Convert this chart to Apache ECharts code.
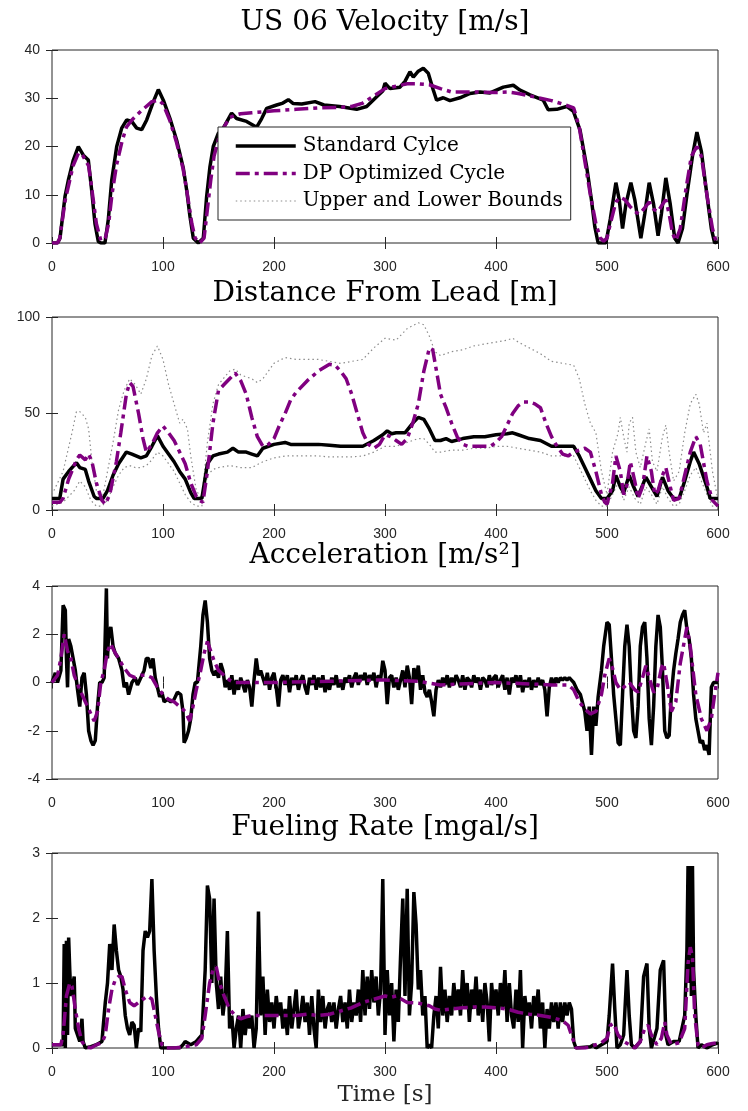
<!DOCTYPE html>
<html><head><meta charset="utf-8">
<script src="https://cdn.jsdelivr.net/npm/echarts@6/dist/echarts.min.js"></script>
<style>html,body{margin:0;padding:0;background:#fff}#c{width:748px;height:1111px}</style>
</head><body><div id="c"></div>
<script>
// ---------- DATA ----------
const xTicks = [0,100,200,300,400,500,600];
const titles = ["US 06 Velocity [m/s]","Distance From Lead [m]","Acceleration [m/s²]","Fueling Rate [mgal/s]"];
const xLabel = "Time [s]";
const legendNames = ["Standard Cylce","DP Optimized Cycle","Upper and Lower Bounds"];

// Velocity [m/s] : [time, value]
const velStd = [[0,0],[5,0],[7.2,1],[11.7,9.6],[14.7,13],[19.2,17.2],[23.7,20],[28.2,18.2],[32.7,17.2],[35.7,11],[38.7,4],[41.7,0.3],[44,0],[47.7,0],[50.7,4.8],[53.8,13],[58.3,20],[62.8,23.8],[67.3,25.5],[71.8,25.2],[76.3,23.8],[80.8,23.5],[85.3,25.5],[91.3,29.3],[95.8,31.8],[100.3,29.6],[106.3,25.8],[112.3,21.3],[118.3,15.5],[121.3,11],[124.3,5.5],[127.3,1],[131.8,0],[136.3,1],[139.3,9.6],[142.3,15.8],[145.3,20],[149.8,22.7],[154.3,23.8],[161.8,26.9],[166.3,25.8],[175.3,25.2],[184.4,24],[188.9,25.8],[193.4,27.9],[202.4,28.6],[208,29],[212.9,29.7],[217.4,28.9],[225,28.8],[237,29.3],[245,28.6],[259,28.3],[274.5,27.7],[283.5,28.3],[292.5,30.3],[298,31.5],[300,33.1],[304.5,32],[313.5,32.3],[318,33.5],[322.5,35.5],[325.5,34.4],[330,35.6],[334.5,36.2],[339,35.2],[343.5,31.7],[346.5,29.6],[352.5,30.1],[358.5,29.5],[367.5,30.1],[376.6,31],[385.6,31.3],[394.6,31.1],[406.6,32.3],[415.6,32.7],[421.6,31.7],[430.6,30.7],[442.6,29.6],[447,27.6],[454.7,27.7],[463.7,28.3],[469.7,27.3],[475.7,23.4],[481.7,15.8],[486,8.9],[489,3.4],[492,0],[499,0],[503,5],[508,12.5],[511,9],[514,3],[517,8],[521.5,12.5],[525,9],[530.5,1],[534,6],[538,12.5],[542,8],[546,1.5],[549,6],[553,13.5],[557,8],[561,1],[564,0],[568,3],[572,10],[577,18],[581,23],[585,19],[590,10],[594,3],[597,0],[600,0.3]];
const velDP = [[0,0],[5,0],[7,1],[12,9],[15,12],[19,16],[24,18.7],[28,18],[33,16],[36,11],[40,4],[44,0.5],[48,1],[51,4],[54,10],[58,16],[63,21],[67,24],[72,25.5],[80,27.3],[90,29.3],[96,29.6],[100,28.8],[106,25.5],[112,21],[118,15.5],[122,10],[126,4],[129,1],[133,0],[137,1],[140,7],[143,13],[146,18],[150,21.5],[155,24],[160,26],[165,26.5],[170,26.8],[180,27],[190,27.2],[200,27.4],[220,27.7],[240,28],[260,28.1],[270,28.3],[280,29],[290,30.5],[300,32],[310,32.5],[320,33],[330,33],[340,32.8],[350,32],[360,31.3],[380,31.3],[400,31.2],[410,31.3],[420,31],[430,30.5],[440,30],[450,29.5],[460,28.8],[470,28],[475,24],[480,17],[485,10],[490,4],[494,1],[497,0.4],[500,1],[503,4],[508,8.5],[512,9.5],[516,9],[521,7.5],[525,6.5],[529,6],[533,7],[538,8.5],[542,7],[546,6.5],[550,8],[553,9],[556,6],[559,2],[562,0.5],[566,3],[571,11],[576,18],[581,20],[585,18],[590,10],[595,3],[598,0.5],[600,0.3]];

// Distance from lead [m]
const distStd = [[0,6],[7,6],[10,16],[15,20],[22,24.5],[25,22],[30,21],[33,15],[38,7],[40,6],[46,6],[50,10],[55,18],[60,24],[67,30],[72,29],[80,27],[85,28],[90,33],[95,38.5],[100,33],[105,29],[110,25],[115,20],[120,16],[125,9],[128,6],[135,6],[140,24],[145,28],[150,29],[158,30],[163,32],[168,30],[175,30],[180,29],[185,28],[190,32],[200,34],[210,35],[215,34],[230,34],[240,34],[250,33.5],[260,33],[280,33],[290,36],[298,39],[302,41],[306,39.5],[310,40],[318,40],[325,45],[330,48],[335,47],[340,42],[345,36],[350,36],[355,37],[360,35.5],[370,37],[380,38],[390,38],[400,39],[410,39.5],[415,40],[420,39],[430,37],[440,36],[450,33],[460,33],[470,33],[475,28],[480,22],[485,16],[490,10],[495,6],[500,6],[505,10],[508,18],[512,12],[515,9],[520,18],[524,12],[528,7],[535,17],[540,12],[545,7],[550,17],[555,10],[560,6],[565,6],[570,15],[575,25],[578,30],[583,24],[590,12],[593,6],[600,6]];
const distDP = [[0,4],[7,4],[10,6],[15,16],[22,26],[25,28.5],[30,26],[33,29],[36,25],[40,14],[45,5],[48,3],[52,8],[58,25],[62,40],[67,60],[70,66],[73,64],[78,50],[82,37],[85,30],[90,34],[95,40],[100,43.5],[105,40],[110,36],[115,30],[120,24],[125,14],[130,7],[133,5],[136,4],[140,20],[145,45],[150,62],[155,65],[160,68],[165,71],[170,67],[175,60],[180,48],[185,38],[190,33],[195,34],[200,37],[205,44],[210,50],[215,57],[220,61],[230,67],[240,72],[250,75.5],[255,75],[260,72],[265,68],[270,60],[275,50],[280,40],[285,34],[290,32],[295,34],[300,39],[305,38],[310,36],[315,34],[320,37],[325,45],[330,55],[335,72],[340,84],[343,83],[347,70],[350,60],[355,53],[360,45],[365,38],[370,34],[375,33],[385,33],[395,33],[400,35],[405,38],[410,44],[415,50],[420,54],[425,56],[430,56],[435,55],[440,53],[445,45],[450,38],[455,33],[460,29],[465,28],[470,30],[475,31],[480,32],[485,30],[490,20],[495,8],[498,4],[500,3],[505,14],[508,28],[512,20],[515,8],[518,13],[521,25],[525,15],[528,6],[532,12],[536,28],[540,20],[543,8],[546,10],[550,18],[553,22],[557,12],[560,5],[565,6],[570,18],[575,30],[580,38],[584,34],[590,15],[595,5],[600,2]];
const distUpper = [[0,8],[10,20],[18,40],[22,51],[25,51],[30,48],[33,42],[36,25],[40,10],[45,5],[50,20],[55,35],[60,52],[65,62],[70,68],[75,65],[80,60],[85,68],[90,80],[95,85],[100,78],[105,65],[110,55],[115,45],[118,47],[122,42],[125,28],[130,10],[135,6],[140,35],[145,55],[150,65],[160,72],[165,73],[170,70],[180,68],[185,66],[190,68],[200,76],[210,79],[220,78],[240,78],[250,77],[260,76],[270,77],[280,78],[290,84],[300,89],[310,88],[320,94],[330,97],[335,96],[340,90],[345,82],[350,80],[360,82],[370,83],[380,85],[390,86],[400,87],[410,88],[415,89],[420,87],[430,84],[440,81],[450,77],[460,76],[470,75],[475,68],[480,55],[485,45],[490,40],[495,20],[500,8],[505,30],[510,40],[512,48],[515,38],[518,30],[520,45],[523,48],[526,30],[530,22],[535,35],[538,42],[541,25],[545,20],[550,38],[553,44],[556,30],[560,15],[565,20],[570,40],[575,55],[580,60],[583,55],[587,40],[590,45],[595,20],[600,5]];
const distLower = [[0,2],[10,4],[20,10],[25,15],[30,12],[35,5],[40,2],[45,2],[50,5],[55,12],[60,18],[65,22],[70,23],[75,22],[80,22],[85,23],[90,26],[95,30],[100,28],[105,24],[110,20],[115,14],[120,8],[125,4],[130,2],[135,2],[140,18],[145,21],[150,22],[160,23],[170,22],[180,22],[190,25],[200,27],[210,28],[240,28],[250,27.5],[270,27.5],[280,28],[290,30],[300,33],[310,33],[320,35],[330,37],[335,37],[340,34],[345,30],[350,30],[360,31],[370,31],[380,32],[390,32],[400,33],[410,33],[420,32],[430,31],[440,30],[450,28],[470,28],[475,22],[480,16],[485,10],[490,5],[495,2],[500,2],[505,8],[510,14],[515,5],[520,12],[525,6],[530,3],[535,12],[540,8],[545,3],[550,12],[555,6],[560,2],[565,3],[570,10],[575,18],[580,22],[585,15],[590,8],[595,2],[600,2]];

// Acceleration [m/s^2]
const accStd = [[0,0],[3,0.4],[5,0],[8,0.5],[10,3.2],[12,3.0],[13,1],[14,-0.2],[15,1.8],[17,1.5],[19,1.0],[21,0.5],[23,-0.3],[25,-1],[27,0.2],[29,0.4],[31,-0.5],[33,-2],[35,-2.4],[37,-2.6],[39,-2.4],[41,-1.0],[43,0],[45,0],[47,0.2],[49,3.9],[50,1.0],[51,2.0],[53,2.3],[55,1.5],[57,1.2],[60,1.0],[63,0.5],[65,-0.2],[67,0],[69,-0.5],[72,0],[75,0.2],[77,-0.1],[80,0.2],[83,0.5],[85,1.0],[87,1.0],[89,0.6],[91,1.0],[93,0.2],[95,-0.2],[97,-0.6],[99,-0.4],[101,-0.8],[104,-0.7],[107,-0.8],[110,-0.7],[113,-0.4],[116,-0.5],[118,-1.2],[119,-2.5],[121,-2.3],[123,-2.0],[125,-1.5],[127,-0.5],[129,0],[131,0],[134,1.5],[136,2.8],[138,3.4],[140,2.5],[142,1.0],[144,0.5],[146,0.3],[148,0.5],
[150,0.2],[152,0.8],[154,0.5],[156,-0.2],[158,0.1],[160,-0.3],[162,0.3],[164,-0.5],[166,0.1],[168,-0.3],[170,0.2],[172,-0.1],[174,-0.4],[176,0.1],[178,-0.2],[180,-1.0],[182,0.1],[184,1.0],[186,0.3],[188,0.5],[190,0.2],[192,-0.1],[194,0.4],[196,-0.3],[198,0.2],[200,0.4],[202,-0.2],[204,-1.0],[206,0.1],[208,0.3],[210,-0.1],[212,0.3],[214,-0.4],[216,0.2],[218,-0.1],[220,0.3],[222,-0.3],[224,0.1],[226,0.3],[228,-0.2],[230,-0.5],[232,0.2],[234,-0.1],[236,0.3],[238,-0.3],[240,0.2],[242,-0.2],[244,0.3],[246,-0.4],[248,0.1],[250,-0.3],[252,0.2],[254,-0.1],[256,0.3],[258,-0.2],[260,0.1],[262,-0.3],[264,0.2],[266,0.0],[268,0.3],[270,-0.2],[272,0.2],[274,0.4],[276,-0.1],[278,0.3],[280,0.1],[282,0.4],[284,-0.1],[286,0.3],[288,0.1],[290,0.4],[292,-0.2],[294,0.3],[296,0.1],[298,0.9],[300,0.5],[302,-0.9],[304,0.2],[306,0.3],[308,-0.2],[310,0.2],[312,-0.3],[314,0.1],[316,0.5],[318,-0.2],[320,0.7],[322,0.2],[324,-0.9],[326,0.6],[328,0.1],[330,0.7],[332,-0.3],[334,0.3],[336,-0.4],[338,-0.6],[340,-0.3],[342,-0.8],[344,-1.4],[346,-0.3],[348,0.1],[350,-0.2],[352,0.2],[354,-0.1],[356,0.3],[358,-0.2],[360,0.2],[362,-0.1],[364,0.3],[366,0.1],[368,-0.2],[370,0.3],[372,-0.3],[374,0.2],[376,0.1],[378,-0.2],[380,0.3],[382,0.0],[384,0.2],[386,-0.3],[388,0.2],[390,0.1],[392,-0.2],[394,0.3],[396,-0.1],[398,0.2],[400,0.3],[402,-0.2],[404,0.1],[406,0.3],[408,-0.3],[410,0.2],[412,-0.5],[414,0.2],[416,0.0],[418,0.3],[420,-0.2],[422,0.3],[424,-0.4],[426,0.1],[428,-0.2],[430,0.2],[432,-0.3],[434,0.1],[436,-0.2],[438,0.2],[440,-0.1],[442,0.1],[444,-0.3],[446,-1.4],[448,-0.2],[450,0.2],[452,-0.1],[454,0.2],[456,0.0],[458,0.2],[460,0.1],[462,0.2],[464,0.1],[466,0.2],[468,0.1],[470,0.0],
[473,-0.3],[476,-0.5],[480,-1.2],[482,-2.0],[484,-1.0],[486,-3.0],[488,-1.0],[490,-1.8],[492,-0.6],[495,0.5],[497,1.5],[500,2.5],[502,2.4],[504,1.0],[506,-0.5],[508,-1.5],[510,-2.5],[512,-2.6],[514,-0.5],[516,1.5],[518,2.4],[520,1.5],[522,-0.5],[524,-2.0],[526,-2.3],[528,-1.0],[530,1.5],[532,2.3],[534,2.5],[536,1.0],[538,-1.5],[540,-2.6],[542,-1.0],[544,1.5],[546,2.8],[548,2.3],[550,0.5],[552,-2.0],[554,-2.3],[556,-2.2],[558,-0.5],[560,0.5],[562,1.2],[564,1.8],[566,2.5],[568,2.8],[570,3.0],[572,2.2],[574,1.8],[576,1.0],[578,-0.5],[580,-1.5],[582,-2.0],[584,-2.5],[586,-2.4],[588,-2.8],[590,-2.6],[592,-3.0],[594,-0.2],[596,0],[600,0]];
const accDP = [[0,0],[5,0.3],[8,1],[11,2.0],[14,1.3],[17,1.0],[20,0.3],[25,-0.3],[30,-0.8],[35,-1.3],[38,-1.6],[41,-1.2],[44,0],[47,0.5],[50,1.3],[53,1.6],[56,1.3],[60,1.0],[65,0.6],[70,0.3],[75,0.2],[80,0.3],[85,0.3],[90,0.2],[95,-0.2],[100,-0.5],[105,-0.7],[110,-0.8],[115,-1.0],[120,-1.2],[124,-1.6],[127,-1.0],[130,-0.3],[134,0.5],[137,1.2],[140,1.7],[143,1.3],[146,0.9],[150,0.5],[155,0.3],[160,0.1],[165,0],[200,0],[250,0.05],[290,0.1],[300,0.1],[330,0.05],[350,-0.1],[400,0],[450,-0.1],[465,-0.1],[470,-0.3],[475,-0.8],[480,-1.1],[485,-1.3],[490,-1.2],[495,-0.5],[498,0.3],[502,1.0],[505,0.6],[508,0],[512,-0.3],[515,-0.2],[520,0],[525,-0.3],[528,-0.4],[532,0.2],[535,0.7],[538,0.2],[542,-0.4],[545,-0.3],[549,0.6],[551,0.8],[554,0],[558,-1.2],[562,-0.8],[566,0.8],[570,1.8],[572,2.3],[575,1.5],[580,-0.5],[585,-1.5],[590,-2.0],[594,-1.5],[597,-0.5],[600,0.4]];

// Fueling rate [mgal/s]
const fuelStd = [[0,0.05],[10,0.05],[11,1.6],[12,0],[13,1.65],[14,0.2],[15,1.7],[16,1.2],[17,0.8],[18,0.9],[20,1.1],[21,0.3],[23,0.2],[25,0.1],[27,0.45],[28,0.1],[30,0],[35,0.02],[40,0.05],[45,0.1],[48,0.7],[50,1.0],[52,1.6],[54,1.2],[56,1.9],[58,1.5],[60,1.2],[62,1.1],[64,0.9],[66,0.5],[68,0.3],[70,0.2],[72,0.4],[74,0.35],[76,0],[78,0.3],[80,0.25],[82,1.5],[84,1.8],[86,1.7],[88,1.8],[90,2.6],[92,1.5],[94,0.8],[96,0.3],[98,0],[115,0],[118,0.05],[120,0.1],[125,0.05],[130,0.1],[135,0.2],[138,1.2],[140,2.5],[142,2.3],[144,1.0],[146,2.3],[148,1.0],[150,0.6],[152,1.1],[154,0.5],[156,0.8],[158,1.8],[160,0.3],[162,0.5],[164,0],[166,0.3],[168,0.5],[170,0],[172,0.6],[174,0.2],[176,0.5],[178,0.3],[180,0.5],[182,0],[184,0.3],[186,2.1],[188,0.5],[190,1.1],[192,0.2],[194,0.9],[196,0.4],[198,0.7],[200,0.3],[202,0.8],[204,0.5],[206,0.7],[208,0.3],[210,0.6],[212,0.2],[214,0.8],[216,0.3],[218,0.6],[220,0.9],[222,0.3],[224,0.5],[226,0.8],[228,0.4],[230,0.7],[232,0.2],[234,0.8],[236,0.3],[238,0],[240,0.9],[242,0.4],[244,0.8],[246,0.3],[248,0.6],[250,0.7],[252,0.4],[254,0.7],[256,0.3],[258,0.6],[260,0.8],[262,0.4],[264,0.7],[266,0.3],[268,0.9],[270,0.4],[272,0.7],[274,0.5],[276,0.9],[278,0.4],[280,1.2],[282,0.5],[284,1.1],[286,0.6],[288,1.2],[290,0.7],[292,1.1],[294,0.5],[296,0.9],[298,2.6],[300,0.2],[302,1.2],[304,0.5],[306,1.0],[308,0.1],[310,0.9],[312,0.4],[314,1.4],[316,2.3],[318,0.8],[320,2.45],[322,0.5],[324,1.0],[326,2.4],[328,1.9],[330,0.9],[332,1.2],[334,0.5],[336,0.8],[338,0],[340,0.05],[342,0],[344,0.5],[346,0.8],[348,0.3],[350,1.25],[352,0.5],[354,0.9],[356,0.4],[358,0.8],[360,0.5],[362,1.0],[364,0.6],[366,0.9],[368,0.5],[370,1.2],[372,0.6],[374,1.0],[376,0.4],[378,0.9],[380,0.6],[382,1.1],[384,0.5],[386,0.9],[388,0.4],[390,1.0],[392,0.7],[394,0.1],[396,1.0],[398,0.6],[400,0.9],[402,0.5],[404,1.0],[406,0.6],[408,1.2],[410,0.4],[412,1.0],[414,0.5],[416,0.3],[418,0.9],[420,0.4],[422,1.2],[424,0.0],[426,0.8],[428,0.5],[430,0.7],[432,0.3],[434,0.8],[436,0.5],[438,0.9],[440,0.3],[442,0.7],[444,0.0],[446,0.6],[448,0.3],[450,0.7],[452,0.4],[454,0.7],[456,0.3],[458,0.7],[460,0.4],[462,0.7],[464,0.5],[466,0.7],[468,0.6],[470,0.1],[472,0],[485,0.02],[488,0.05],[490,0],[495,0.05],[500,0.1],[502,0.5],[505,1.3],[507,0.6],[509,0],[512,0.05],[515,0.2],[518,1.2],[520,0.5],[522,0.05],[525,0],[530,0.1],[533,1.1],[536,1.3],[538,0.3],[540,0],[545,0.3],[548,1.2],[551,1.35],[553,0.2],[555,0.05],[560,0.1],[565,0.1],[570,0.5],[572,1.5],[573,2.8],[574,1.0],[575,2.8],[576,0.8],[577,2.8],[578,1.2],[580,0.5],[582,0],[585,0.05],[590,0],[595,0.05],[600,0.08]];
const fuelDP = [[0,0.05],[8,0.05],[10,0.2],[13,0.8],[16,1.0],[18,0.95],[21,0.6],[24,0.3],[27,0.1],[30,0.02],[35,0],[40,0.05],[45,0.08],[48,0.2],[51,0.6],[54,0.9],[57,1.05],[60,1.1],[63,1.1],[66,0.9],[70,0.7],[74,0.65],[78,0.7],[82,0.75],[86,0.8],[90,0.75],[93,0.5],[96,0.25],[99,0.05],[102,0],[110,0],[120,0.02],[130,0.05],[135,0.15],[138,0.5],[142,1.0],[145,1.2],[148,1.25],[151,1.0],[155,0.8],[160,0.6],[165,0.5],[170,0.45],[175,0.48],[180,0.5],[220,0.5],[230,0.52],[240,0.5],[250,0.52],[260,0.57],[270,0.62],[280,0.7],[290,0.75],[300,0.8],[305,0.78],[310,0.8],[315,0.75],[320,0.7],[330,0.69],[340,0.65],[345,0.6],[350,0.58],[360,0.6],[370,0.62],[380,0.63],[390,0.63],[400,0.62],[410,0.6],[420,0.55],[430,0.52],[440,0.5],[450,0.47],[460,0.42],[465,0.35],[470,0.1],[472,0],[480,0],[485,0.02],[490,0.05],[495,0.08],[500,0.15],[503,0.35],[506,0.38],[510,0.2],[515,0.1],[520,0.05],[525,0],[530,0.1],[534,0.3],[537,0.35],[540,0.2],[545,0.05],[549,0.15],[552,0.4],[554,0.2],[558,0.05],[565,0.08],[570,0.3],[573,1.3],[575,1.55],[577,1.4],[579,0.5],[582,0.05],[585,0],[590,0.05],[595,0.07],[600,0.08]];

const yRanges = [[0,40,10],[0,100,50],[-4,4,2],[0,3,1]];

// ---------- CHART ----------
const chart = echarts.init(document.getElementById('c'), null, {renderer:'canvas'});
const L = 52, W = 666;
const tops = [50, 317, 586, 853];
const heights = [193, 193, 193, 195];
const tickFont = {fontFamily:'Liberation Sans, Arial, sans-serif', fontSize:14, color:'#262626'};
const axisCol = '#262626';
const BLACK = '#000000', PURPLE = '#800080', GRAY = '#8c8c8c';
const dashDot = [14, 5, 4, 5];
const dotted = [1.5, 3];

const grids = [], xAxes = [], yAxes = [];
for (let i = 0; i < 4; i++) {
  grids.push({left:L, top:tops[i], width:W, height:heights[i], show:true, borderColor:axisCol, borderWidth:1, backgroundColor:'transparent', containLabel:false});
  const xBase = {gridIndex:i, type:'value', min:0, max:600, interval:100, splitLine:{show:false},
    axisLine:{show:false}, axisTick:{show:true, inside:true, length:6, lineStyle:{color:axisCol, width:1}}};
  xAxes.push(Object.assign({}, xBase, {position:'bottom', axisLabel:Object.assign({margin:17}, tickFont)}));
  xAxes.push(Object.assign({}, xBase, {position:'top', axisLabel:{show:false}}));
  const [ymin, ymax, yint] = yRanges[i];
  const yBase = {gridIndex:i, type:'value', min:ymin, max:ymax, interval:yint, splitLine:{show:false},
    axisLine:{show:false}, axisTick:{show:true, inside:true, length:6, lineStyle:{color:axisCol, width:1}}};
  yAxes.push(Object.assign({}, yBase, {position:'left', axisLabel:Object.assign({margin:12}, tickFont)}));
  yAxes.push(Object.assign({}, yBase, {position:'right', axisLabel:{show:false}}));
}

function line(name, data, gi, color, width, type, z) {
  return {name:name, type:'line', data:data, xAxisIndex:gi*2, yAxisIndex:gi*2, showSymbol:false, symbol:'none',
    lineStyle:{color:color, width:width, type:type}, itemStyle:{color:color}, animation:false, z:z, smooth:false, clip:true};
}

const series = [
  line(legendNames[0], velStd, 0, BLACK, 3.5, 'solid', 3),
  line(legendNames[1], velDP, 0, PURPLE, 3.5, dashDot, 4),
  line(legendNames[2], distUpper, 1, GRAY, 1.2, dotted, 2),
  line(legendNames[2], distLower, 1, GRAY, 1.2, dotted, 2),
  line(legendNames[0], distStd, 1, BLACK, 3.5, 'solid', 3),
  line(legendNames[1], distDP, 1, PURPLE, 3.5, dashDot, 4),
  line(legendNames[0], accStd, 2, BLACK, 3.5, 'solid', 3),
  line(legendNames[1], accDP, 2, PURPLE, 3.5, dashDot, 4),
  line(legendNames[0], fuelStd, 3, BLACK, 3.5, 'solid', 3),
  line(legendNames[1], fuelDP, 3, PURPLE, 3.5, dashDot, 4)
];

const titleFont = '"DejaVu Serif", "Liberation Serif", serif';
const titleTops = [9, 280, 542, 814];
const titleComps = titles.map((t, i) => ({text:t, left:385, top:titleTops[i], textAlign:'center', padding:0,
  textStyle:{fontFamily:titleFont, fontSize:28, fontWeight:'normal', color:'#000'}}));
titleComps.push({text:xLabel, left:385, top:1084, textAlign:'center', padding:0,
  textStyle:{fontFamily:titleFont, fontSize:23, fontWeight:'normal', color:'#262626'}});

const legendData = [
  {name:legendNames[0], lineStyle:{color:BLACK, width:3.5, type:'solid', opacity:1}},
  {name:legendNames[1], lineStyle:{color:PURPLE, width:3.5, type:dashDot, opacity:1}},
  {name:legendNames[2], lineStyle:{color:GRAY, width:1.2, type:dotted, opacity:1}}
];

chart.setOption({
  animation:false,
  backgroundColor:'#ffffff',
  title:titleComps,
  legend:{data:legendData, orient:'vertical', left:218, top:127, itemWidth:60, itemHeight:14, itemGap:7.5,
    padding:[9, 8, 9, 16], backgroundColor:'#ffffff', borderColor:axisCol, borderWidth:1, z:10,
    itemStyle:{opacity:0, borderWidth:0},
    textStyle:{fontFamily:titleFont, fontSize:20, color:'#000', padding:[0,0,0,2]}, selectedMode:false},
  grid:grids, xAxis:xAxes, yAxis:yAxes, series:series
});
</script></body></html>
